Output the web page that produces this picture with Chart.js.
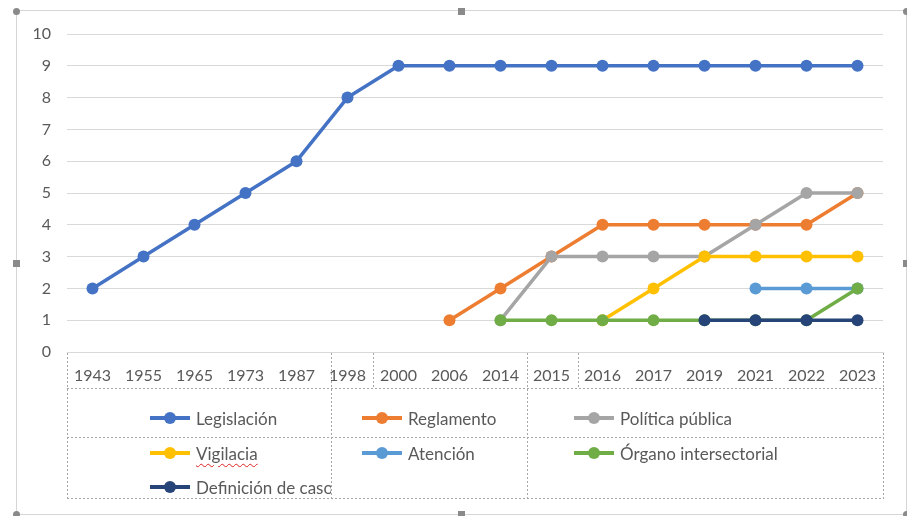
<!DOCTYPE html>
<html>
<head>
<meta charset="utf-8">
<script src="https://cdn.jsdelivr.net/npm/chart.js@4/dist/chart.umd.min.js"></script>
<style>
  body { margin: 0; background: #fff; }
  #wrap { position: relative; width: 907px; height: 516px; overflow: hidden; font-family: Lato, "Open Sans", sans-serif; color: #595959; }
  #c { position: absolute; left: 0; top: 0; }
  .frame { position: absolute; left: 16px; top: 10px; width: 889px; height: 503px; border: 1px solid #d6d6d6; }
  .hd { position: absolute; width: 7px; height: 7px; background: #8a8a8a; }
  .hd.round { border-radius: 50%; }
  .dh { position: absolute; height: 1px; background: repeating-linear-gradient(90deg, #a6a6a6 0 2px, transparent 2px 4px); }
  .dv { position: absolute; width: 1px; background: repeating-linear-gradient(180deg, #a6a6a6 0 2px, transparent 2px 4px); }
  .leg { position: absolute; height: 22px; display: flex; align-items: center; font-size: 17px; white-space: nowrap; }
  .sym { position: relative; width: 40px; height: 12px; margin-right: 6px; }
  .sym i { position: absolute; left: 0; top: 4px; width: 40px; height: 4px; }
  .sym b { position: absolute; left: 14px; top: 0; width: 12px; height: 12px; border-radius: 50%; }
  .clip { position: absolute; left: 67px; top: 438px; width: 264px; height: 60px; overflow: hidden; }
  .spell { text-decoration: underline wavy #e02020; text-decoration-thickness: 1px; text-underline-offset: 3px; }
</style>
</head>
<body>
<div id="wrap">
  <canvas id="c" width="907" height="516"></canvas>
</div>
<script>
const years = ['1943', '1955', '1965', '1973', '1987', '1998', '2000', '2006', '2014', '2015', '2016', '2017', '2019', '2021', '2022', '2023'];

const seriesNames = ['Legislación', 'Reglamento', 'Política pública', 'Vigilacia', 'Atención', 'Órgano intersectorial', 'Definición de caso'];
const seriesColors = ['#4472C4', '#ED7D31', '#A5A5A5', '#FFC000', '#5B9BD5', '#70AD47', '#264478'];

const legislacion = [2, 3, 4, 5, 6, 8, 9, 9, 9, 9, 9, 9, 9, 9, 9, 9];
const reglamento = [null, null, null, null, null, null, null, 1, 2, 3, 4, 4, 4, 4, 4, 5];
const politica = [null, null, null, null, null, null, null, null, 1, 3, 3, 3, 3, 4, 5, 5];
const vigilacia = [null, null, null, null, null, null, null, null, null, null, 1, 2, 3, 3, 3, 3];
const atencion = [null, null, null, null, null, null, null, null, null, null, null, null, null, 2, 2, 2];
const organo = [null, null, null, null, null, null, null, null, 1, 1, 1, 1, 1, 1, 1, 2];
const definicion = [null, null, null, null, null, null, null, null, null, null, null, null, 1, 1, 1, 1];

const seriesValues = [legislacion, reglamento, politica, vigilacia, atencion, organo, definicion];

// later series sit on top, like in Excel
const datasets = seriesNames.map((name, i) => ({
  label: name,
  data: seriesValues[i],
  borderColor: seriesColors[i],
  backgroundColor: seriesColors[i],
  pointBackgroundColor: seriesColors[i],
  pointBorderColor: seriesColors[i],
  pointBorderWidth: 0,
  pointRadius: 6,
  borderWidth: 3.5,
  borderCapStyle: 'round',
  borderJoinStyle: 'round',
  tension: 0,
  order: seriesNames.length - 1 - i
}));

new Chart(document.getElementById('c'), {
  type: 'line',
  data: { labels: years, datasets: datasets },
  options: {
    responsive: false,
    animation: false,
    layout: { padding: { left: 20, top: 34, right: 24, bottom: 0 } },
    plugins: { legend: { display: false }, tooltip: { enabled: false } },
    scales: {
      x: {
        offset: true,
        grid: { display: false, drawTicks: false },
        border: { display: true, color: '#d9d9d9', width: 1 },
        ticks: { color: '#595959', font: { family: 'Lato', size: 16 }, padding: 14, maxRotation: 0, autoSkip: false },
        afterFit: s => { s.height = 164; }
      },
      y: {
        min: 0, max: 10,
        grid: { color: '#d9d9d9', lineWidth: 1, drawTicks: false },
        border: { display: false },
        ticks: { stepSize: 1, color: '#595959', font: { family: 'Lato', size: 16 }, padding: 16 },
        afterFit: s => { s.width = 47; }
      }
    }
  }
});

// frame, handles, dashed table cells and legend
const wrap = document.getElementById('wrap');
function add(cls, css, html) {
  const d = document.createElement('div');
  d.className = cls;
  Object.assign(d.style, css);
  if (html) d.innerHTML = html;
  wrap.appendChild(d);
  return d;
}
add('frame', {});
[[16, 11, 1], [461, 11, 0], [906, 11, 1], [16, 263, 0], [906, 263, 0], [16, 514, 1], [461, 514, 0], [906, 514, 1]].forEach(h => {
  add('hd' + (h[2] ? ' round' : ''), { left: (h[0] - 3) + 'px', top: (h[1] - 3) + 'px' });
});

function hline(x1, x2, y) { add('dh', { left: x1 + 'px', top: y + 'px', width: (x2 - x1) + 'px' }); }
function vline(x, y1, y2) { add('dv', { left: x + 'px', top: y1 + 'px', height: (y2 - y1) + 'px' }); }
hline(67, 884, 388);
hline(67, 884, 437);
hline(67, 884, 498);
vline(67, 353, 499);
vline(331, 353, 499);
vline(373, 353, 388);
vline(527, 353, 499);
vline(578, 353, 388);
vline(883, 353, 499);

function legendItem(i, x, y, parent) {
  const name = seriesNames[i] === 'Vigilacia' ? '<span class="spell">Vigilacia</span>' : seriesNames[i];
  const html = '<div class="sym"><i style="background:' + seriesColors[i] + '"></i><b style="background:' + seriesColors[i] + '"></b></div>' + name;
  const d = document.createElement('div');
  d.className = 'leg';
  d.style.left = x + 'px';
  d.style.top = (y - 11) + 'px';
  d.innerHTML = html;
  (parent || wrap).appendChild(d);
}
const legX = [150, 362, 574];
const legY = [418, 453];
for (let i = 0; i < 6; i++) legendItem(i, legX[i % 3], legY[Math.floor(i / 3)]);
const clip = add('clip', {});
legendItem(6, 150 - 67, 487 - 438, clip);
</script>
</body>
</html>
